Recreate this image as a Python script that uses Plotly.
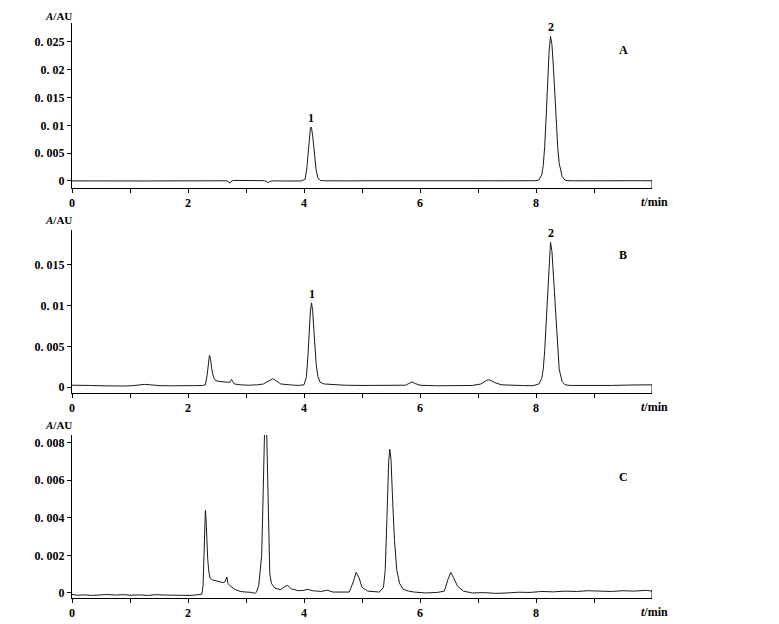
import plotly.graph_objects as go

# chromatogram A - standard mixture
time_a = [0.0, 0.2, 0.45, 0.7, 0.95, 1.05, 1.3, 1.6, 1.9, 2.2, 2.5, 2.65, 2.7, 2.72, 2.74, 2.78,
          2.9, 3.05, 3.2, 3.32, 3.36, 3.38, 3.41, 3.45, 3.6, 3.8, 3.95, 4.02, 4.05, 4.07, 4.09,
          4.11, 4.12, 4.13, 4.15, 4.17, 4.19, 4.21, 4.24, 4.28, 4.35, 4.5, 4.8, 5.1, 5.4, 5.6,
          5.8, 6.1, 6.4, 6.7, 7.0, 7.3, 7.6, 7.85, 8.0, 8.05, 8.1, 8.125, 8.15, 8.175, 8.2,
          8.225, 8.25, 8.275, 8.3, 8.325, 8.35, 8.375, 8.4, 8.45, 8.5, 8.55, 8.65, 8.8, 9.0,
          9.3, 9.6, 9.8, 10.0]
abs_a = [0.00002, 0.0, 0.00003, -0.00001, 0.00006, 0.00004, 0.0, 0.00002, -0.00001, 0.00001,
         0.00003, 0.00005, -0.0001, -0.0004, -0.0001, 0.0001, 0.00008, 0.00012, 0.00009, 0.00006,
         -0.0001, -0.0003, -0.0001, 0.00002, 0.0, 0.00001, 0.0, 0.0003, 0.0024, 0.0048, 0.0075,
         0.0094, 0.0097, 0.0095, 0.0081, 0.0059, 0.0036, 0.0019, 0.00055, 0.0001, 0.00003, 0.0,
         0.00002, 0.00004, 0.00006, 0.00001, 0.00003, 0.0, 0.00001, 0.00002, 0.00004, 0.00003,
         0.00002, 0.00003, 0.00005, 0.0002, 0.0011, 0.0028, 0.0062, 0.0115, 0.0178, 0.0232,
         0.026, 0.0245, 0.0205, 0.0152, 0.01, 0.006, 0.0032, 0.0008, 0.00015, 0.00005, 0.00003,
         0.00005, 0.00003, 0.00006, 0.00004, 0.00005, 0.00004]

# chromatogram B - sample
time_b = [0.0, 0.15, 0.3, 0.5, 0.7, 0.9, 1.05, 1.15, 1.25, 1.35, 1.5, 1.7, 1.9, 2.1, 2.25, 2.3,
          2.33, 2.35, 2.37, 2.39, 2.41, 2.44, 2.48, 2.55, 2.65, 2.72, 2.75, 2.77, 2.8, 2.9, 3.05,
          3.2, 3.3, 3.4, 3.46, 3.52, 3.6, 3.75, 3.9, 4.0, 4.04, 4.07, 4.09, 4.11, 4.13, 4.15,
          4.17, 4.19, 4.21, 4.24, 4.28, 4.35, 4.5, 4.7, 5.0, 5.3, 5.6, 5.75, 5.82, 5.86, 5.92,
          6.0, 6.3, 6.6, 6.9, 7.05, 7.15, 7.2, 7.28, 7.4, 7.6, 7.8, 7.95, 8.05, 8.1, 8.125, 8.15,
          8.175, 8.2, 8.225, 8.25, 8.275, 8.3, 8.325, 8.35, 8.375, 8.4, 8.45, 8.5, 8.6, 8.8, 9.0,
          9.3, 9.6, 9.8, 10.0]
abs_b = [0.00025, 0.0002, 0.00022, 0.00018, 0.00012, 0.00015, 0.0002, 0.00028, 0.00035, 0.0003,
         0.0002, 0.00018, 0.00015, 0.0002, 0.00022, 0.0003, 0.0015, 0.0032, 0.0039, 0.0034,
         0.0022, 0.0012, 0.0008, 0.0007, 0.0006, 0.0006, 0.00095, 0.0007, 0.0004, 0.0003,
         0.00025, 0.0003, 0.0004, 0.0008, 0.00105, 0.0008, 0.0004, 0.0003, 0.00022, 0.0003,
         0.0012, 0.004, 0.007, 0.0093, 0.0103, 0.0093, 0.007, 0.0047, 0.0028, 0.0013, 0.0006,
         0.0004, 0.0003, 0.00025, 0.00022, 0.0002, 0.00022, 0.00025, 0.0005, 0.00065, 0.00045,
         0.00025, 0.00018, 0.0002, 0.00022, 0.0004, 0.00085, 0.0009, 0.0006, 0.0003, 0.00022,
         0.0002, 0.0002, 0.0004, 0.0011, 0.0022, 0.0045, 0.008, 0.0123, 0.016, 0.0177, 0.0166,
         0.0138, 0.0103, 0.0068, 0.004, 0.0022, 0.0007, 0.0003, 0.00022, 0.0002, 0.00025,
         0.00022, 0.00027, 0.0003, 0.0003]

# chromatogram C
time_c = [0.0, 0.1, 0.2, 0.35, 0.5, 0.6, 0.75, 0.9, 1.0, 1.15, 1.3, 1.45, 1.6, 1.75, 1.9, 2.05,
          2.15, 2.24, 2.26, 2.27, 2.28, 2.29, 2.3, 2.31, 2.32, 2.34, 2.36, 2.38, 2.42, 2.5, 2.55,
          2.6, 2.64, 2.66, 2.67, 2.69, 2.72, 2.8, 2.9, 3.0, 3.1, 3.15, 3.18, 3.22, 3.25, 3.27,
          3.29, 3.31, 3.33, 3.35, 3.37, 3.39, 3.41, 3.44, 3.5, 3.6, 3.67, 3.72, 3.78, 3.9, 4.0,
          4.05, 4.15, 4.3, 4.4, 4.5, 4.65, 4.78, 4.85, 4.9, 4.95, 5.0, 5.1, 5.2, 5.3, 5.37, 5.4,
          5.43, 5.46, 5.48, 5.5, 5.53, 5.56, 5.6, 5.65, 5.71, 5.8, 5.9, 6.1, 6.3, 6.42, 6.48,
          6.53, 6.58, 6.65, 6.75, 6.9, 7.1, 7.3, 7.5, 7.7, 7.9, 8.1, 8.3, 8.5, 8.7, 8.9, 9.1,
          9.3, 9.5, 9.7, 9.9, 10.0]
abs_c = [-0.00008, -0.00012, -0.0001, -0.00013, -0.0001, -0.00008, -0.00011, -0.00009, -0.00012,
         -0.0001, -0.00013, -0.00009, -0.00011, -0.00012, -0.0001, -0.00013, -0.0001, -0.00006,
         0.0004, 0.0014, 0.003, 0.0042, 0.0044, 0.004, 0.003, 0.0018, 0.0011, 0.0008, 0.0007,
         0.00065, 0.0006, 0.00055, 0.0006, 0.0008, 0.00085, 0.0005, 0.0004, 0.0002, 0.00008,
         0.00005, 0.00003, -0.00002, 0.00004, 0.0004, 0.0012, 0.002, 0.0045, 0.008, 0.01,
         0.0095, 0.006, 0.0025, 0.001, 0.0005, 0.00025, 0.00018, 0.00035, 0.0004, 0.00022,
         0.00012, 0.00014, 0.0002, 0.00012, 0.00008, 0.00015, 0.00005, 0.00003, 0.00005, 0.0006,
         0.0011, 0.0008, 0.0003, 0.0001, 0.00008, 0.00005, 0.0003, 0.0012, 0.004, 0.007, 0.00765,
         0.0071, 0.0048, 0.0028, 0.0012, 0.0005, 0.0002, 0.0001, 0.00005, 0.0, 0.00003, 0.0001,
         0.0007, 0.0011, 0.0008, 0.00035, 0.0001, 0.0, 0.00002, -0.00002, 0.0, 0.00004, 0.00003,
         0.00008, 0.00006, 0.0001, 0.00008, 0.00012, 0.0001, 0.00008, 0.00012, 0.0001, 0.00014,
         0.0001]

x_tickvals = [0, 1, 2, 3, 4, 5, 6, 7, 8, 9]
x_ticktext = ["0", "", "2", "", "4", "", "6", "", "8", ""]

y_ticks_a = [0, 0.005, 0.01, 0.015, 0.02, 0.025]
y_text_a = ["0", "0. 005", "0. 01", "0. 015", "0. 02", "0. 025"]
y_ticks_b = [0, 0.005, 0.01, 0.015]
y_text_b = ["0", "0. 005", "0. 01", "0. 015"]
y_ticks_c = [0, 0.002, 0.004, 0.006, 0.008]
y_text_c = ["0", "0. 002", "0. 004", "0. 006", "0. 008"]

# peak labels: (panel, time, height, text)
peak_labels = [("a", 4.12, 0.0097, "1"), ("a", 8.25, 0.026, "2"),
               ("b", 4.13, 0.0103, "1"), ("b", 8.25, 0.0177, "2")]

# page body adds an 8px offset, so the figure is a bit smaller than the window
OFF = 8
W, H = 779 - OFF, 624 - OFF
FONT = "Liberation Serif"
LINE = "#1a1a1a"


def px_x(p):
    return (p - OFF) / W


def px_y(p):
    return 1 - (p - OFF) / H


panels = [
    # name, time, values, y range, y domain (px top, px bottom), ticks, ticktext
    ("a", time_a, abs_a, [-0.00126, 0.0284], (23, 188), y_ticks_a, y_text_a),
    ("b", time_b, abs_b, [-0.0007, 0.0192], (230, 393), y_ticks_b, y_text_b),
    ("c", time_c, abs_c, [-0.000267, 0.00841], (435, 598), y_ticks_c, y_text_c),
]

fig = go.Figure()
axis_font = dict(family=FONT, size=12, color="black", weight="bold")
title_font = dict(family=FONT, size=11, color="black", weight="bold")

for i, (name, t, v, yr, (top, bot), yt, ytt) in enumerate(panels):
    n = "" if i == 0 else str(i + 1)
    fig.add_trace(go.Scatter(
        x=t, y=v, mode="lines", xaxis="x" + n, yaxis="y" + n,
        line=dict(color=LINE, width=1), showlegend=False, hoverinfo="skip"
    ))
    fig.update_layout(**{
        "xaxis" + n: dict(
            domain=[px_x(72), px_x(652)], range=[0, 10], anchor="y" + n,
            showline=True, linecolor="black", linewidth=1,
            ticks="outside", ticklen=4, tickcolor="black",
            tickvals=x_tickvals, ticktext=x_ticktext, tickfont=axis_font,
            showgrid=False, zeroline=False, automargin=False
        ),
        "yaxis" + n: dict(
            domain=[px_y(bot), px_y(top)], range=yr, anchor="x" + n,
            showline=True, linecolor="black", linewidth=1,
            ticks="outside", ticklen=4, tickcolor="black",
            tickvals=yt, ticktext=ytt, tickfont=axis_font,
            showgrid=False, zeroline=False, automargin=False
        ),
    })
    # inward end tick at 10 min
    fig.add_shape(type="line", xref="x" + n, yref="y" + n + " domain",
                  x0=10, x1=10, y0=0, y1=0.05, line=dict(color="black", width=1))
    # axis titles
    fig.add_annotation(x=px_x(58), y=px_y(max(top - 10, 16)), xref="paper", yref="paper",
                       xanchor="center", yanchor="middle",
                       text="<i>A</i>/AU", showarrow=False, font=title_font)
    fig.add_annotation(x=px_x(654), y=px_y(bot + 14), xref="paper", yref="paper",
                       xanchor="center", yanchor="middle",
                       text="<i>t</i>/min", showarrow=False, font=axis_font)

# panel letters
for letter, py in [("A", 50), ("B", 255), ("C", 477)]:
    fig.add_annotation(x=px_x(623), y=px_y(py), xref="paper", yref="paper",
                       xanchor="center", yanchor="middle",
                       text=letter, showarrow=False, font=axis_font)

axis_of = {"a": "", "b": "2", "c": "3"}
for name, t, h, txt in peak_labels:
    n = axis_of[name]
    fig.add_annotation(x=t, y=h, xref="x" + n, yref="y" + n, text=txt,
                       xanchor="center", showarrow=False, yanchor="bottom", yshift=0,
                       font=axis_font)

fig.update_layout(
    width=W, height=H,
    margin=dict(l=0, r=0, t=0, b=0),
    paper_bgcolor="white", plot_bgcolor="white",
    showlegend=False
)

fig.write_html("out.html")
